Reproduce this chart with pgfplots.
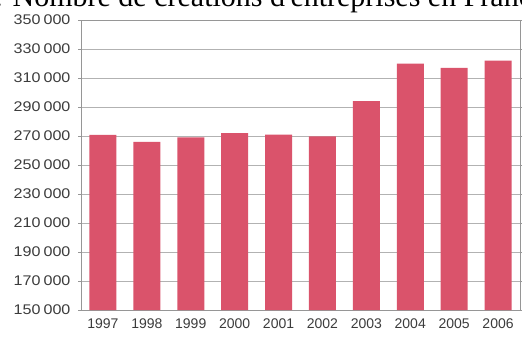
\documentclass[border=0pt]{standalone}
\usepackage{pgfplots}
\pgfplotsset{compat=1.18}
\usepackage{fontspec}
\setmainfont{Liberation Sans}
\newfontfamily\titlefont{Liberation Serif}
\newfontfamily\ylabfont{Liberation Sans}[FakeStretch=1.15]
\definecolor{barc}{RGB}{218,83,107}
\definecolor{gridc}{RGB}{178,178,178}
\definecolor{axc}{RGB}{150,150,150}
\definecolor{txtc}{RGB}{60,60,60}
\begin{document}
\begin{tikzpicture}
\useasboundingbox (0pt,0pt) rectangle (522pt,-338pt);
\node[anchor=base west, inner sep=0, font=\titlefont\fontsize{30}{34}\selectfont] at (-20pt,-6.5pt) {1. Nombre de créations d'entreprises en France};
\begin{axis}[
  at={(81pt,-310pt)}, anchor=south west,
  scale only axis, width=439pt, height=290pt,
  ymin=150000, ymax=350000,
  ytick={150000,170000,...,350000},
  scaled y ticks=false,
  xmin=-0.5, xmax=9.5,
  xtick={0,...,9},
  xticklabels={1997,1998,1999,2000,2001,2002,2003,2004,2005,2006},
  ybar, bar width=27pt,
  axis line style={axc, line width=1pt},
  ymajorgrids, grid style={gridc, line width=1pt},
  major x tick style={draw=none},
  major y tick style={axc, line width=1pt},
  major tick length=3pt,
  tick align=outside,
  y tick label style={font=\ylabfont\fontsize{14}{15}\selectfont, text=txtc, xshift=-4pt,
     /pgf/number format/fixed, /pgf/number format/precision=0,
     /pgf/number format/1000 sep={\kern3pt}, /pgf/number format/assume math mode=true},
  x tick label style={font=\fontsize{14}{15}\selectfont, text=txtc, yshift=-2pt},
]
\addplot[fill=barc, draw=none] coordinates {
(0,270800) (1,266000) (2,269000) (3,272000) (4,271000)
(5,269800) (6,294000) (7,320000) (8,317000) (9,322000)};
\end{axis}
\end{tikzpicture}
\end{document}
